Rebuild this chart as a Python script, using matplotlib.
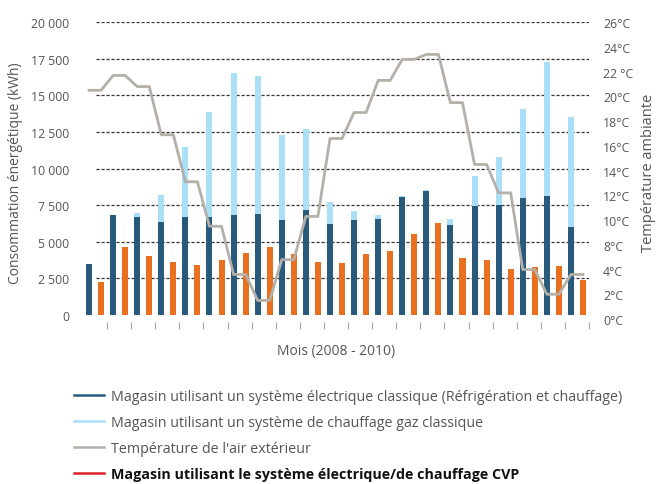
import numpy as np
import matplotlib
matplotlib.use("Agg")
import matplotlib.pyplot as plt
from matplotlib.lines import Line2D

plt.rcParams["font.family"] = ["Open Sans", "DejaVu Sans"]

# monthly values, 2008 - 2010 (21 months)
classic_elec = [3480, 6830, 6700, 6350, 6700, 6700, 6830, 6900, 6490, 7170, 6220,
                6490, 6560, 8080, 8490, 6150, 7450, 7520, 8000, 8130, 6010]
classic_gas = [0, 0, 270, 1850, 4780, 7170, 9700, 9430, 5810, 5530, 1500,
               620, 270, 40, 40, 410, 2050, 3300, 6080, 9160, 7520]
cvp = [2250, 4650, 4030, 3620, 3420, 3760, 4240, 4650, 4170, 3620, 3550,
       4170, 4370, 5530, 6290, 3900, 3760, 3140, 3300, 3350, 2390]
temperature = [18.5, 19.7, 18.8, 14.9, 11.1, 7.5, 3.6, 1.5, 4.8, 8.3, 14.6,
               16.7, 19.3, 21.0, 21.4, 17.5, 12.5, 10.2, 4.0, 2.0, 3.6]

left_ticks = np.arange(0, 20001, 2500)
left_labels = ["0", "2 500", "5 000", "7 500", "10 000", "12 500", "15 000", "17 500", "20 000"]
right_labels = ["0°C", "2°C", "4°C", "8°C", "10°C", "12°C", "14°C", "16°C",
                "18°C", "20°C", "22 °C", "24°C", "26°C"]

legend_labels = [
    "Magasin utilisant un système électrique classique (Réfrigération et chauffage)",
    "Magasin utilisant un système de chauffage gaz classique",
    "Température de l'air extérieur",
    "Magasin utilisant le système électrique/de chauffage CVP",
]

dark_blue = "#295a7c"
light_blue = "#aadff8"
orange = "#e8701f"
grey_line = "#b4b0a9"
red = "#d9262b"
text_col = "#555555"

n = len(classic_elec)
x = np.arange(n)
w = 0.25

fig = plt.figure(figsize=(6.57, 4.85), dpi=100)
ax = fig.add_axes([0.1263, 0.3346, 0.7702, 0.6174])

for v in left_ticks[1:]:
    ax.axhline(v, xmin=0.026, xmax=1, color="#333333", lw=0.9,
               linestyle=(0, (2.5, 1.5)), zorder=0)

ax.bar(x - w, classic_elec, width=w, color=dark_blue, zorder=2)
ax.bar(x - w, classic_gas, width=w, bottom=classic_elec, color=light_blue, zorder=2)
ax.bar(x + w, cvp, width=w, color=orange, zorder=2)

ax.set_xlim(-0.5, n - 0.5)
ax.set_ylim(-458, 20000)
ax.set_yticks(left_ticks)
ax.set_yticklabels(left_labels)
ax.set_xticks(x + 0.5)
ax.set_xticklabels([])
ax.tick_params(axis="y", length=0, pad=10, labelsize=8.8, labelcolor=text_col)
ax.tick_params(axis="x", length=5, width=0.8, color="#aaaaaa")
for s in ax.spines.values():
    s.set_visible(False)
ax.set_ylabel("Consommation énergétique (kWh)", fontsize=10, color=text_col, labelpad=6)
ax.set_xlabel("Mois (2008 - 2010)", fontsize=10, color=text_col, labelpad=7)

ax2 = ax.twinx()
tx = np.column_stack([x - w, x + w]).ravel()
ty = np.repeat(temperature, 2)
ax2.plot(tx, ty, color=grey_line, lw=2, zorder=3)
ax2.set_ylim(-0.22, 24)
ax2.set_yticks(np.arange(0, 25, 2))
ax2.set_yticklabels(right_labels)
ax2.tick_params(axis="y", length=0, pad=10, labelsize=8.8, labelcolor=text_col)
for s in ax2.spines.values():
    s.set_visible(False)
ax2.set_ylabel("Température ambiante", fontsize=10.5, color=text_col, labelpad=6)

handles = [Line2D([], [], color=c, lw=1.8) for c in (dark_blue, light_blue, grey_line, red)]
leg = fig.legend(handles, legend_labels, loc="upper left",
                 bbox_to_anchor=(74 / 657, 1 - 390 / 485), frameon=False,
                 borderpad=0, borderaxespad=0, handlelength=2.1, handletextpad=0.5,
                 labelspacing=0.76, fontsize=10.3)
for i, t in enumerate(leg.get_texts()):
    t.set_color(text_col if i < 3 else "#111111")
    if i == 3:
        t.set_fontweight("bold")

fig.savefig("out.png", dpi=100)
